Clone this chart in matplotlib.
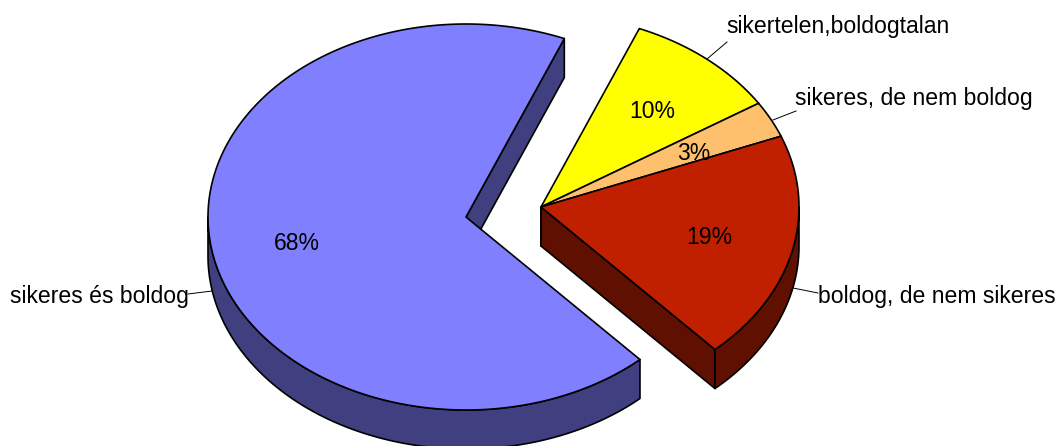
import numpy as np
import matplotlib
matplotlib.use('Agg')
import matplotlib.pyplot as plt
from matplotlib.patches import Polygon

# Slice shares in percent, clockwise from the start angle
labels = ['sikertelen,boldogtalan', 'sikeres, de nem boldog', 'boldog, de nem sikeres', 'sikeres és boldog']
shares = [9.75, 3.05, 19.2, 68.0]
pct_labels = ['10%', '3%', '19%', '68%']

top_colors = ['#FFFF00', '#FFC06E', '#C02000', '#8080FF']
side_colors = ['#808000', '#806037', '#601000', '#404080']

START_ANGLE = 67.6
RX, RY = 258, 193
DEPTH = 39
CENTER_MAIN = (541, 207)
CENTER_EXPLODED = (466, 217)

plt.rcParams['font.family'] = ['Liberation Sans', 'DejaVu Sans']

fig = plt.figure(figsize=(10.59, 4.46), dpi=100)
ax = fig.add_axes([0, 0, 1, 1])
ax.set_xlim(0, 1059)
ax.set_ylim(446, 0)
ax.axis('off')


def arc(center, a0, a1):
    t = np.radians(np.linspace(a0, a1, 200))
    return np.column_stack([center[0] + RX * np.cos(t), center[1] - RY * np.sin(t)])


def face(points, color, z):
    ax.add_patch(Polygon(points, closed=True, facecolor=color, edgecolor='black',
                         linewidth=1.2, joinstyle='round', zorder=z))


def draw_slice(center, a0, a1, top, side):
    # a0 > a1, slices run clockwise
    cx, cy = center
    # radial cut at the clockwise end, the top faces hide whatever is not visible
    if np.cos(np.radians(a1)) > 0:
        end = arc(center, a1, a1)[0]
        face([(cx, cy), end, end + [0, DEPTH], (cx, cy + DEPTH)], side, 2)
    # outer rim, only the lower half of the ellipse shows
    rim_a0, rim_a1 = min(a0, 0), max(a1, -180)
    if rim_a0 > rim_a1:
        rim = arc(center, rim_a0, rim_a1)
        face(np.vstack([rim, (rim + [0, DEPTH])[::-1]]), side, 2)
    face(np.vstack([[(cx, cy)], arc(center, a0, a1)]), top, 3)


angles = START_ANGLE - np.cumsum([0] + shares) * 3.6

# the big slice is pulled away from the other three
draw_slice(CENTER_EXPLODED, angles[3], angles[4], top_colors[3], side_colors[3])
for i in range(3):
    draw_slice(CENTER_MAIN, angles[i], angles[i + 1], top_colors[i], side_colors[i])

# percent labels
pct_pos = [(652, 112), (694, 153), (709, 238), (297, 244)]
for txt, (x, y) in zip(pct_labels, pct_pos):
    ax.text(x, y, txt, fontsize=16.6, ha='center', va='center', color='black', zorder=5)

# category labels and their leader lines
label_pos = [(726, 27), (795, 98), (818, 296), (10, 297)]
leaders = [((707, 59), (727, 42)), ((773, 120), (796, 111)), ((793, 288), (818, 293)), ((212, 291), (188, 294))]
for txt, (x, y), (p, q) in zip(labels, label_pos, leaders):
    ax.text(x, y, txt, fontsize=16.6, ha='left', va='center', color='black', zorder=5)
    ax.plot([p[0], q[0]], [p[1], q[1]], color='black', linewidth=0.7, zorder=4)

fig.savefig('out.png', dpi=100)
